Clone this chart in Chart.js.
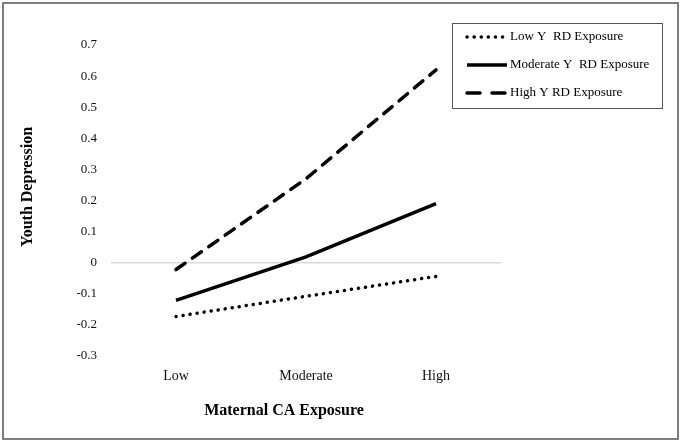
<html>
<head>
<script src="https://cdn.jsdelivr.net/npm/chart.js@4"></script>
<style>
  body { margin: 0; background: #fff; }
  #wrap { width: 685px; height: 442px; }
</style>
</head>
<body>
<div id="wrap"><canvas id="myChart" width="685" height="442"></canvas></div>
<script>
const categories = ['Low', 'Moderate', 'High'];
const lowYRD = [-0.173, -0.108, -0.044];
const moderateYRD = [-0.121, 0.019, 0.19];
const highYRD = [-0.022, 0.27, 0.62];
const seriesNames = ['Low Y  RD Exposure', 'Moderate Y  RD Exposure', 'High Y RD Exposure'];
const xTitle = 'Maternal CA Exposure';
const yTitle = 'Youth Depression';

const serif = '"Liberation Serif", "Times New Roman", serif';

// frame, axis titles and the boxed legend are painted here
const decor = {
  id: 'decor',
  beforeDraw(chart) {
    const c = chart.ctx;
    c.save();
    c.fillStyle = '#fff';
    c.fillRect(0, 0, chart.width, chart.height);
    c.strokeStyle = '#555';
    c.lineWidth = 1.5;
    c.strokeRect(3, 3, 675, 436);
    c.restore();
  },
  afterDraw(chart) {
    const c = chart.ctx;
    const area = chart.chartArea;
    c.save();
    c.fillStyle = '#000';
    c.font = 'bold 16px ' + serif;
    c.textAlign = 'center';
    c.textBaseline = 'middle';
    c.fillText(xTitle, area.left + 173, 411);
    c.translate(28, 187);
    c.rotate(-Math.PI / 2);
    c.fillText(yTitle, 0, 0);
    c.restore();

    // legend
    c.save();
    c.strokeStyle = '#555';
    c.lineWidth = 1;
    c.strokeRect(452.5, 23.5, 210, 85);
    const rows = [37, 65, 93];
    chart.data.datasets.forEach((ds, i) => {
      const y = rows[i];
      const dashed = ds.borderDash && ds.borderDash[0] > 1;
      c.beginPath();
      c.strokeStyle = ds.borderColor;
      c.lineWidth = ds.borderWidth;
      c.lineCap = ds.borderCapStyle || 'butt';
      c.setLineDash(dashed ? [13, 12] : (ds.borderDash || []));
      c.moveTo(467, y);
      c.lineTo(dashed ? 505 : 507, y);
      c.stroke();
      c.setLineDash([]);
      c.fillStyle = '#000';
      c.font = '13px ' + serif;
      c.textAlign = 'left';
      c.textBaseline = 'middle';
      c.fillText(ds.label, 510, y);
    });
    c.restore();
  }
};

new Chart(document.getElementById('myChart'), {
  type: 'line',
  data: {
    labels: categories,
    datasets: [
      { label: seriesNames[0], data: lowYRD, borderColor: '#000', borderWidth: 3.5,
        borderDash: [0.1, 7], borderCapStyle: 'round' },
      { label: seriesNames[1], data: moderateYRD, borderColor: '#000', borderWidth: 3.5 },
      { label: seriesNames[2], data: highYRD, borderColor: '#000', borderWidth: 3.5,
        borderDash: [11, 9], borderCapStyle: 'round' }
    ]
  },
  options: {
    responsive: false,
    animation: false,
    layout: { padding: { top: 45, right: 184, bottom: 0, left: 0 } },
    elements: { point: { radius: 0 }, line: { tension: 0 } },
    plugins: { legend: { display: false }, tooltip: { enabled: false } },
    scales: {
      x: {
        offset: true,
        grid: { display: false },
        border: { display: false },
        ticks: { color: '#111', font: { family: serif, size: 14 }, padding: 4 },
        afterFit(scale) { scale.height = 86; }
      },
      y: {
        min: -0.3,
        max: 0.7,
        ticks: {
          stepSize: 0.1,
          color: '#111',
          padding: 14,
          font: { family: serif, size: 13 },
          callback: v => String(Number(v.toFixed(1)))
        },
        grid: {
          drawTicks: false,
          color: ctx => Math.abs(ctx.tick.value) < 1e-9 ? '#d9d9d9' : 'rgba(0,0,0,0)',
          lineWidth: 1.5
        },
        border: { display: false },
        afterFit(scale) { scale.width = 111; }
      }
    }
  },
  plugins: [decor]
});
</script>
</body>
</html>
